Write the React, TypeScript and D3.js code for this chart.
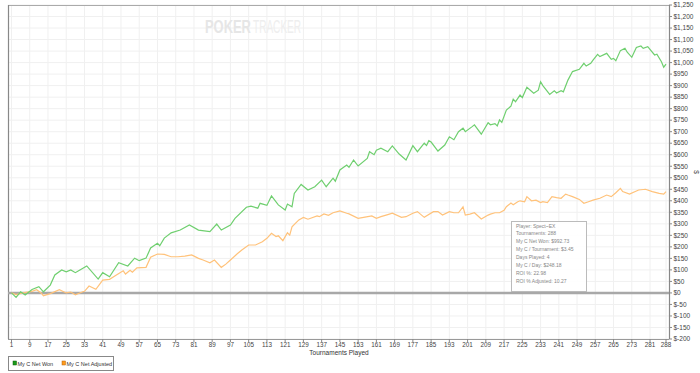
import React from 'react';
import * as d3 from 'd3';

// values, [tournament, $]
const netWon: [number, number][] = [
  [1, 0], [3, -19], [5, 5], [7, -9], [10, 15], [13, 27], [15, 5], [18, 34], [20, 78], [23, 100],
  [25, 92], [27, 100], [29, 88], [31, 100], [34, 117], [39, 60], [41, 88], [44, 70], [48, 131], [52, 117],
  [55, 151], [57, 140], [60, 151], [62, 195], [65, 216], [66, 205], [68, 238], [71, 261], [75, 273], [79, 295],
  [83, 273], [88, 266], [91, 299], [93, 273], [97, 295], [99, 324], [104, 372], [106, 377], [109, 368], [110, 389],
  [113, 380], [115, 421], [118, 382], [121, 360], [122, 386], [124, 374], [125, 432], [128, 471], [131, 447], [134, 461],
  [137, 490], [139, 461], [142, 498], [143, 485], [145, 534], [148, 555], [149, 545], [151, 577], [153, 551], [157, 584],
  [158, 613], [160, 600], [161, 620], [163, 628], [166, 613], [168, 638], [171, 603], [174, 577], [177, 639], [179, 613],
  [182, 650], [183, 640], [184, 661], [185, 655], [188, 616], [191, 642], [193, 678], [195, 665], [197, 700], [199, 715],
  [200, 700], [203, 722], [204, 730], [207, 689], [210, 739], [211, 730], [213, 735], [214, 725], [215, 751], [216, 740],
  [218, 794], [220, 811], [221, 841], [222, 830], [224, 859], [225, 848], [227, 893], [230, 867], [232, 880], [233, 917],
  [234, 900], [237, 862], [239, 878], [240, 868], [242, 878], [243, 873], [245, 924], [247, 961], [250, 971], [252, 997],
  [253, 985], [255, 997], [256, 1011], [258, 1036], [259, 1026], [262, 1040], [264, 1014], [265, 1018], [266, 1008], [268, 1052],
  [270, 1062], [271, 1045], [273, 1023], [275, 1066], [277, 1072], [278, 1062], [280, 1069], [283, 1033], [284, 1036], [286, 1004],
  [287, 980], [288, 993],
];

const netAdjusted: [number, number][] = [
  [1, 0], [3, -7], [6, 0], [10, 7], [12, 14], [14, 0], [15, -12], [18, -3], [22, 14], [25, 0],
  [27, 4], [29, -8], [32, 4], [33, 7], [35, 30], [38, 16], [41, 56], [44, 59], [47, 78], [50, 96],
  [51, 82], [53, 98], [54, 90], [56, 109], [60, 111], [62, 155], [65, 169], [68, 167], [71, 157], [74, 157],
  [77, 160], [80, 165], [83, 150], [85, 143], [88, 131], [90, 143], [93, 111], [95, 125], [97, 143], [100, 170],
  [102, 186], [105, 208], [108, 208], [111, 222], [113, 237], [115, 259], [117, 245], [118, 248], [120, 227], [122, 261],
  [123, 251], [124, 287], [127, 317], [129, 328], [131, 320], [135, 334], [136, 331], [138, 343], [140, 337], [142, 348],
  [145, 356], [148, 346], [149, 343], [153, 324], [156, 329], [159, 334], [161, 324], [163, 331], [166, 340], [168, 346],
  [172, 328], [174, 331], [177, 346], [179, 353], [182, 328], [186, 353], [188, 353], [190, 338], [193, 353], [195, 348],
  [197, 348], [199, 374], [200, 338], [202, 342], [204, 348], [207, 321], [210, 338], [211, 342], [213, 348], [215, 348],
  [217, 359], [218, 374], [220, 390], [221, 383], [223, 396], [224, 400], [226, 396], [227, 418], [229, 400], [231, 403],
  [233, 392], [234, 396], [236, 392], [238, 418], [240, 414], [242, 411], [244, 429], [245, 425], [247, 418], [250, 406],
  [252, 389], [254, 396], [256, 403], [259, 411], [262, 425], [264, 418], [266, 435], [268, 454], [269, 440], [272, 429],
  [276, 447], [279, 450], [282, 440], [285, 432], [287, 429], [288, 440],
];

const xTicks = [1, 9, 17, 25, 33, 41, 49, 57, 65, 73, 81, 89, 97, 105, 113, 121, 129, 137, 145, 153,
  161, 169, 177, 185, 193, 201, 209, 217, 225, 233, 241, 249, 257, 265, 273, 281, 288];
const yTicks = d3.range(-200, 1251, 50);

const infoLines = [
  'Player: Spect~EX',
  'Tournaments: 288',
  'My C Net Won: $992.73',
  'My C / Tournament: $3.45',
  'Days Played: 4',
  'My C / Day: $248.18',
  'ROI %: 22.98',
  'ROI % Adjusted: 10.27',
];

const legendItems = [
  { label: 'My C Net Won', fill: '#1a9a1a', stroke: '#0b5e0b' },
  { label: 'My C Net Adjusted', fill: '#ff9a1a', stroke: '#b5620a' },
];

const font = 'Arial, "Liberation Sans", sans-serif';

export default function App() {
  const W = 700, H = 373;
  const left = 8, right = 669, top = 5, bottom = 339;

  const x = d3.scaleLinear().domain([1, 288]).range([11.5, 666]);
  const y = d3.scaleLinear().domain([-200, 1250]).range([bottom, top]);
  const line = d3.line<[number, number]>().x(d => x(d[0])).y(d => y(d[1]));

  const fmt = (v: number) => (v < 0 ? '$-' : '$') + d3.format(',')(Math.abs(v));

  return (
    <svg width={W} height={H} style={{ position: 'absolute', left: 0, top: 0, background: '#fff' }}
      fontFamily={font}>
      {/* grid */}
      {xTicks.map(t => (
        <line key={'gx' + t} x1={x(t)} x2={x(t)} y1={top} y2={bottom} stroke="#f0f0f0" />
      ))}
      {yTicks.map(v => (
        <line key={'gy' + v} x1={left} x2={right} y1={y(v)} y2={y(v)} stroke="#f0f0f0" />
      ))}

      {/* watermark */}
      <text transform="translate(205,33) scale(0.68,1)" fontSize={19} fill="#e6e6e6" fontWeight="bold">POKER</text>
      <text transform="translate(253,33) scale(0.53,1)" fontSize={19} fill="#eeeeee">TRACKER</text>

      {/* frame */}
      <line x1={left} x2={right} y1={top + 0.5} y2={top + 0.5} stroke="#aaa" />
      <line x1={left + 0.5} x2={left + 0.5} y1={top} y2={bottom} stroke="#888" strokeWidth={1.2} />
      <line x1={right + 0.5} x2={right + 0.5} y1={top} y2={bottom} stroke="#888" strokeWidth={1.2} />
      <line x1={left} x2={right} y1={bottom + 0.5} y2={bottom + 0.5} stroke="#999" />

      {/* zero line */}
      <line x1={left} x2={right} y1={y(0)} y2={y(0)} stroke="#a8a8a8" strokeWidth={2.5} />

      {/* series */}
      <path d={line(netAdjusted) || ''} fill="none" stroke="#ffc27a" strokeWidth={1.2} />
      <path d={line(netWon) || ''} fill="none" stroke="#6fcf6f" strokeWidth={1.2} />

      {/* right axis */}
      {yTicks.map(v => (
        <g key={'ty' + v} transform={`translate(${right},${y(v)})`}>
          <line x1={0} x2={3} stroke="#888" />
          <text x={4.5} dy="0.35em" fontSize={6.5} fill="#444">{fmt(v)}</text>
        </g>
      ))}
      <text transform={`translate(694,172) rotate(90)`} fontSize={6.5} fill="#444" textAnchor="middle">$</text>

      {/* bottom axis */}
      {xTicks.map(t => (
        <g key={'tx' + t} transform={`translate(${x(t)},${bottom})`}>
          <line y1={0} y2={3} stroke="#888" />
          <text y={7.5} fontSize={6.3} fill="#444" textAnchor="middle">{t}</text>
        </g>
      ))}
      <text x={339} y={355} fontSize={6.5} fill="#333" textAnchor="middle">Tournaments Played</text>

      {/* info box */}
      <rect x={511.5} y={221.5} width={75} height={70} fill="#fff" fillOpacity={0.9} stroke="#bbb" />
      {infoLines.map((s, i) => (
        <text key={s} x={516} y={227.5 + i * 7.9} fontSize={5} fill="#888">{s}</text>
      ))}

      {/* legend */}
      <rect x={8.5} y={356.5} width={105} height={14} fill="#fff" stroke="#888" />
      {legendItems.map((d, i) => {
        const lx = i === 0 ? 13 : 62;
        return (
          <g key={d.label}>
            <rect x={lx} y={361} width={3.5} height={4} fill={d.fill} stroke={d.stroke} strokeWidth={0.5} />
            <text x={lx + 4.5} y={365.5} fontSize={5.5} fill="#333">{d.label}</text>
          </g>
        );
      })}
    </svg>
  );
}
